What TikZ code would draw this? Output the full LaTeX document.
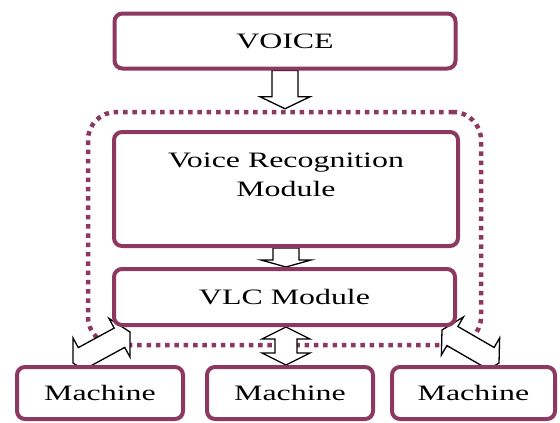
\documentclass[tikz,border=0pt]{standalone}
\usepackage{fontspec}
\setmainfont{Liberation Serif}
\usetikzlibrary{calc,backgrounds}

\definecolor{plum}{RGB}{140,56,96}

% text set wide, as in the original drawing
\newcommand\widetext[1]{\scalebox{1.45}[1]{#1}}

% block arrow from #1 to #2: shaft half width #3, head half width #4, head length #5
\newcommand\blockarrow[5]{%
  \coordinate (sa-h) at ($(#2)!#5!(#1)$);
  \draw[blk] ($(#1)!#3!90:(#2)$) -- ($(sa-h)!#3!90:(#2)$) -- ($(sa-h)!#4!90:(#2)$)
    -- (#2) -- ($(sa-h)!#4!-90:(#2)$) -- ($(sa-h)!#3!-90:(#2)$)
    -- ($(#1)!#3!-90:(#2)$) -- cycle;
}
% block arrow with a head at both ends
\newcommand\doubleblockarrow[5]{%
  \coordinate (da-h1) at ($(#2)!#5!(#1)$);
  \coordinate (da-h2) at ($(#1)!#5!(#2)$);
  \draw[blk] (#2) -- ($(da-h1)!#4!90:(#2)$) -- ($(da-h1)!#3!90:(#2)$)
    -- ($(da-h2)!#3!90:(#2)$) -- ($(da-h2)!#4!90:(#2)$) -- (#1)
    -- ($(da-h2)!#4!-90:(#2)$) -- ($(da-h2)!#3!-90:(#2)$)
    -- ($(da-h1)!#3!-90:(#2)$) -- ($(da-h1)!#4!-90:(#2)$) -- cycle;
}

\begin{document}
\begin{tikzpicture}[x=1pt,y=-1pt,
  box/.style={draw=plum, line width=4pt, rounded corners=8pt, fill=white,
    inner sep=0pt, font=\fontsize{22}{29}\selectfont},
  txt/.style={inner sep=0pt, font=\fontsize{22}{29}\selectfont, align=center},
  blk/.style={draw=black, line width=1.3pt, fill=white, line join=miter},
  frame/.style={draw=plum, line width=4.5pt, dash pattern=on 4.5pt off 4.8pt,
    rounded corners=28pt, inner sep=0pt}]

\useasboundingbox (0,0) rectangle (560,423);

% boxes
\node[box, minimum width=341pt, minimum height=55pt] (voice) at (285,41) {\widetext{VOICE}};
\node[box, minimum width=344pt, minimum height=114pt] (vrm) at (286,189) {};
\node[txt, anchor=north] (vrmtext) at (286,153) {\widetext{Voice Recognition}\\\widetext{Module}};
\node[box, minimum width=341pt, minimum height=56pt] (vlc) at (284.5,297) {\widetext{VLC Module}};
\node[box, minimum width=166pt, minimum height=52pt] (m1) at (100,393) {\widetext{Machine}};
\node[box, minimum width=166pt, minimum height=52pt] (m2) at (290,393) {\widetext{Machine}};
\node[box, minimum width=163pt, minimum height=52pt] (m3) at (473.5,393) {\widetext{Machine}};

\begin{scope}[on background layer]
  % dotted outline round the two modules
  \node[frame, minimum width=393pt, minimum height=233pt] (group) at (284.5,228.5) {};

  % connectors
  \coordinate (a1) at ($(voice.south |- group.north)+(0,-1)$);
  \blockarrow{voice.south}{a1}{13pt}{25pt}{12pt}

  \coordinate (a2) at (vrm.south |- vlc.north);
  \blockarrow{vrm.south}{a2}{13pt}{25pt}{7pt}

  \coordinate (a3a) at ($(vlc.south)+(1.5,0)$);
  \coordinate (a3b) at (a3a |- m2.north);
  \doubleblockarrow{a3a}{a3b}{11pt}{24pt}{12pt}

  \coordinate (l1) at ($(vlc.south west)+(18,5)$);
  \coordinate (l2) at ($(m1.north)+(-27,-2)$);
  \doubleblockarrow{l1}{l2}{11pt}{22pt}{12pt}

  \coordinate (r1) at ($(vlc.south east)+(-15,3)$);
  \coordinate (r2) at ($(m3.north)+(25.5,-2)$);
  \doubleblockarrow{r1}{r2}{11pt}{22pt}{12pt}
\end{scope}
\end{tikzpicture}
\end{document}
